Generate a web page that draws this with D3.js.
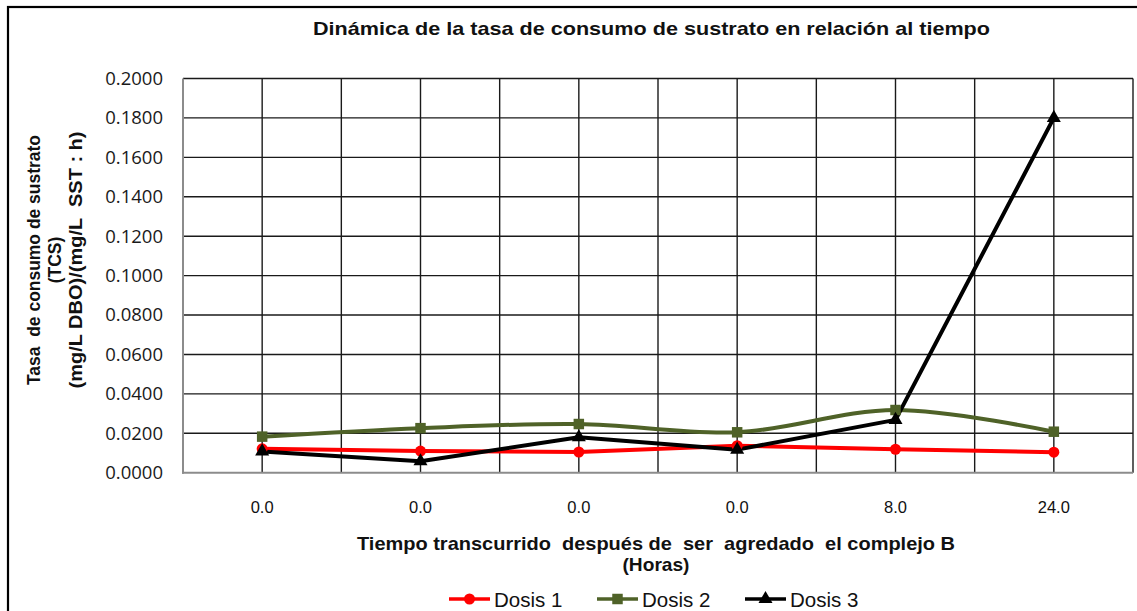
<!DOCTYPE html>
<html><head><meta charset="utf-8">
<script src="https://cdn.jsdelivr.net/npm/d3@7"></script>
<style>body{margin:0;background:#fff;}svg{display:block;}</style>
</head><body>
<svg id="chart" width="1137" height="611"></svg>
<script>
const categories = ["0.0a","0.0b","0.0c","0.0d","8.0","24.0"];
const categoryLabels = ["0.0","0.0","0.0","0.0","8.0","24.0"];
const dosis1 = [0.0121, 0.0110, 0.0105, 0.0137, 0.0119, 0.0104];
const dosis2 = [0.0183, 0.0226, 0.0247, 0.0205, 0.0318, 0.0208];
const dosis3 = [0.0108, 0.0058, 0.0180, 0.0117, 0.0268, 0.1800];
const yTicks = [0,0.02,0.04,0.06,0.08,0.10,0.12,0.14,0.16,0.18,0.20];
const seriesNames = ["Dosis 1","Dosis 2","Dosis 3"];

const svg = d3.select("#chart");
const L = 183, R = 1133, T = 78.5, B = 472.7;
const FONT = "'Liberation Sans', Arial, sans-serif";

// outer border
svg.append("rect").attr("x",8).attr("y",7).attr("width",1150).attr("height",620)
  .attr("fill","#fff").attr("stroke","#000").attr("stroke-width",2.2);

const x = d3.scaleBand().domain(categories).range([L,R]).padding(0);
const y = d3.scaleLinear().domain([0,0.2]).range([B,T]);
const bw = x.bandwidth();

// horizontal gridlines
svg.append("g").selectAll("line").data(yTicks.slice(1)).join("line")
  .attr("x1",L).attr("x2",R).attr("y1",d=>y(d)).attr("y2",d=>y(d))
  .attr("stroke","#1a1a1a").attr("stroke-width",1.4);
// vertical gridlines (half-band)
const vx = [];
categories.forEach(c=>{vx.push(x(c)+bw/2); vx.push(x(c)+bw);});
svg.append("g").selectAll("line").data(vx).join("line")
  .attr("x1",d=>d).attr("x2",d=>d).attr("y1",T).attr("y2",B)
  .attr("stroke","#1a1a1a").attr("stroke-width",1.4);

// axes lines (gray)
svg.append("line").attr("x1",L).attr("x2",L).attr("y1",T).attr("y2",B+1)
  .attr("stroke","#8c8c8c").attr("stroke-width",2);
svg.append("line").attr("x1",L-1).attr("x2",R).attr("y1",B).attr("y2",B)
  .attr("stroke","#8c8c8c").attr("stroke-width",2);

// y axis
const yAxis = d3.axisLeft(y).tickValues(yTicks).tickFormat(d3.format(".4f")).tickSize(0).tickPadding(20);
const gy = svg.append("g").attr("transform",`translate(${L},0)`).call(yAxis);
gy.select(".domain").remove();
gy.selectAll("text").attr("font-family","'Open Sans', sans-serif").attr("font-size",18.5).attr("fill","#1a1a1a");

// x axis
const xAxis = d3.axisBottom(x).tickFormat((d,i)=>categoryLabels[i]).tickSize(0).tickPadding(29);
const gx = svg.append("g").attr("transform",`translate(0,${B})`).call(xAxis);
gx.select(".domain").remove();
gx.selectAll("text").attr("font-family",FONT).attr("font-size",16.5).attr("fill","#111");

// series
const cx = c => x(c)+bw/2;
const series = [
  {name:seriesNames[0], vals:dosis1, color:"#ff0000", curve:d3.curveLinear, marker:"circle"},
  {name:seriesNames[1], vals:dosis2, color:"#4f6228", curve:d3.curveCatmullRom.alpha(0), marker:"square"},
  {name:seriesNames[2], vals:dosis3, color:"#000000", curve:d3.curveLinear, marker:"triangle"}
];
const symType = {circle:d3.symbolCircle, square:d3.symbolSquare, triangle:d3.symbolTriangle};
const symSize = {circle:95, square:110, triangle:85};

series.forEach(s=>{
  const line = d3.line().x((d,i)=>cx(categories[i])).y(d=>y(d)).curve(s.curve);
  svg.append("path").attr("d",line(s.vals)).attr("fill","none")
    .attr("stroke",s.color).attr("stroke-width",4).attr("stroke-linejoin","round");
});
series.forEach(s=>{
  svg.append("g").selectAll("path").data(s.vals).join("path")
    .attr("transform",(d,i)=>`translate(${cx(categories[i])},${y(d)})`)
    .attr("d",d3.symbol().type(symType[s.marker]).size(symSize[s.marker]))
    .attr("fill",s.color);
});

// title
svg.append("text").attr("x",651.5).attr("y",35).attr("text-anchor","middle")
  .attr("font-family",FONT).attr("font-weight","bold")
  .attr("font-size",19).attr("fill","#111")
  .attr("textLength",677).attr("lengthAdjust","spacingAndGlyphs")
  .text("Dinámica de la tasa de consumo de sustrato en relación al tiempo");

// x axis title
svg.append("text").attr("x",656).attr("y",550).attr("text-anchor","middle").attr("xml:space","preserve")
  .attr("font-family",FONT).attr("font-weight","bold").attr("font-size",18.5).attr("fill","#111")
  .attr("textLength",598).attr("lengthAdjust","spacingAndGlyphs")
  .text("Tiempo transcurrido  después de  ser  agredado  el complejo B");
svg.append("text").attr("x",656).attr("y",571).attr("text-anchor","middle")
  .attr("font-family",FONT).attr("font-weight","bold").attr("font-size",18.5).attr("fill","#111")
  .attr("textLength",67).attr("lengthAdjust","spacingAndGlyphs")
  .text("(Horas)");

// y axis title
const ytLines = ["Tasa  de consumo de sustrato","(TCS)","(mg/L DBO)/(mg/L  SST : h)"];
const ytX = [40, 61, 82];
const ytLen = [250, null, 257];
ytLines.forEach((t,i)=>{
  const tx = svg.append("text").attr("transform",`translate(${ytX[i]},260) rotate(-90)`)
    .attr("text-anchor","middle").attr("xml:space","preserve")
    .attr("font-family",FONT).attr("font-weight","bold")
    .attr("font-size",17.5).attr("fill","#111").text(t);
  if (ytLen[i]) tx.attr("textLength",ytLen[i]).attr("lengthAdjust","spacingAndGlyphs");
});

// legend
const legX = [449, 597, 745];
series.forEach((s,i)=>{
  const g = svg.append("g").attr("transform",`translate(${legX[i]},599)`);
  g.append("line").attr("x1",0).attr("x2",41).attr("y1",0).attr("y2",0)
    .attr("stroke",s.color).attr("stroke-width",3.5);
  g.append("path").attr("transform","translate(20.5,0)")
    .attr("d",d3.symbol().type(symType[s.marker]).size(symSize[s.marker])).attr("fill",s.color);
  g.append("text").attr("x",45).attr("y",7.5).attr("font-family",FONT)
    .attr("font-size",20.5).attr("fill","#111").text(s.name);
});
</script>
</body></html>
